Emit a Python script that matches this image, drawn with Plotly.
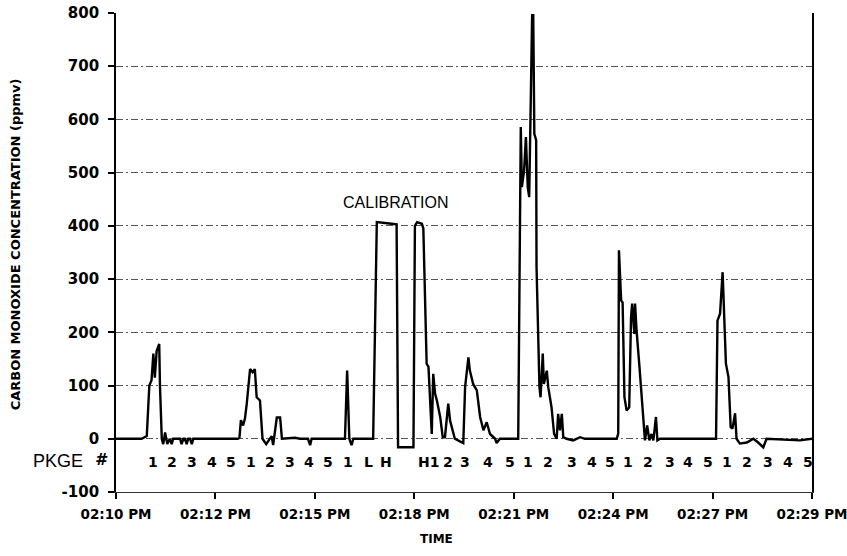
import plotly.graph_objects as go

# Time in minutes after 02:10 PM, CO concentration in ppmv
time_min = [0.00, 0.70, 0.84, 0.91, 0.97, 1.02, 1.06, 1.11, 1.18, 1.20, 1.25, 1.29, 1.34, 1.40, 1.47,
            1.52, 1.56, 1.75, 1.79, 1.84, 1.88, 1.93, 1.97, 2.02, 2.07, 2.11, 3.33, 3.37, 3.41, 3.47,
            3.52, 3.57, 3.66, 3.73, 3.79, 3.84, 3.93, 4.00, 4.10, 4.20, 4.25, 4.29, 4.39, 4.48, 4.53,
            4.89, 5.02, 5.24, 5.30, 5.34, 6.25, 6.31, 6.37, 6.43, 6.48, 7.02, 7.10, 7.12, 7.40, 7.66,
            7.70, 8.12, 8.16, 8.22, 8.35, 8.39, 8.48, 8.53, 8.62, 8.66, 8.71, 8.76, 8.85, 8.92, 8.98,
            9.07, 9.12, 9.19, 9.25, 9.39, 9.48, 9.53, 9.62, 9.66, 9.75, 9.85, 9.94, 10.03, 10.12, 10.21,
            10.35, 10.39, 10.48, 10.98, 11.05, 11.08, 11.14, 11.19, 11.24, 11.28, 11.32, 11.36, 11.39,
            11.42, 11.47, 11.48, 11.56, 11.59, 11.65, 11.68, 11.76, 11.80, 11.89, 11.96, 12.03, 12.07,
            12.12, 12.17, 12.21, 12.30, 12.48, 12.67, 12.80, 13.67, 13.71, 13.73, 13.79, 13.83, 13.88,
            13.94, 14.01, 14.06, 14.09, 14.15, 14.17, 14.21, 14.29, 14.35, 14.40, 14.44, 14.50, 14.56,
            14.62, 14.67, 14.74, 14.78, 14.85, 16.38, 16.42, 16.49, 16.56, 16.60, 16.65, 16.72, 16.78,
            16.83, 16.90, 16.94, 17.03, 17.22, 17.40, 17.53, 17.67, 17.76, 18.40, 18.67, 19.00]
co_ppmv = [0, 0, 5, 100, 110, 160, 115, 165, 178, 100, 0, -10, 12, -10, 0,
           -10, 0, 0, -10, 0, 0, -10, 0, 0, -10, 0, 0, 2, 35, 25,
           38, 66, 131, 125, 131, 78, 72, 0, -10, 0, 5, -12, 40, 40, 0,
           2, 0, 0, -12, 0, 0, 128, 0, -12, 0, 0, 400, 407, 405, 403,
           -16, -16, 400, 407, 404, 395, 141, 135, 9, 122, 85, 72, 41, 3, 3,
           66, 34, 16, 0, -5, -8, 97, 153, 128, 103, 91, 41, 16, 31, 9,
           0, -8, 0, 0, 586, 473, 504, 567, 473, 454, 605, 796, 796,
           573, 561, 323, 97, 78, 160, 103, 128, 97, 59, 9, 0, 47,
           16, 47, 3, 0, -3, 3, 0, 0, 10, 354, 260, 256, 78,
           53, 59, 228, 254, 197, 254, 204, 135, 72, 28, -3, 25, -3,
           9, -3, 41, -3, 0, 0, 222, 235, 313, 241, 141, 116, 22,
           19, 48, 0, -9, -7, 0, -7, -16, 0, -3, -3, 0]

# Package labels along the bottom
pkg_labels = ["1", "2", "3", "4", "5", "1", "2", "3", "4", "5", "1", "L", "H", "H1",
              "2", "3", "4", "5", "1", "2", "3", "4", "5", "1", "2", "3", "4", "5",
              "1", "2", "3", "4", "5"]
pkg_time = [1.01, 1.54, 2.07, 2.61, 3.14, 3.68, 4.20, 4.74, 5.27, 5.80, 6.33, 6.88, 7.37, 8.52,
            9.06, 9.53, 10.16, 10.76, 11.25, 11.79, 12.44, 13.00, 13.49, 13.98, 14.53, 15.12, 15.61, 16.16,
            16.68, 17.23, 17.80, 18.35, 18.90]
pkg_level = -43

x_tick_vals = [0, 19/7, 38/7, 57/7, 76/7, 95/7, 114/7, 19]
x_tick_text = ["02:10 PM", "02:12 PM", "02:15 PM", "02:18 PM", "02:21 PM", "02:24 PM", "02:27 PM", "02:29 PM"]
y_tick_vals = [-100, 0, 100, 200, 300, 400, 500, 600, 700, 800]
y_tick_text = ["-100", "0", "100", "200", "300", "400", "500", "600", "700", "800"]

fig = go.Figure()
fig.add_trace(go.Scatter(x=time_min, y=co_ppmv, mode="lines",
                         line=dict(color="black", width=2.4), showlegend=False))

annotations = []
for lab, t in zip(pkg_labels, pkg_time):
    annotations.append(dict(x=t, y=pkg_level, xref="x", yref="y", text=lab, showarrow=False,
                            font=dict(family="DejaVu Sans", size=14, color="black", weight="bold")))
annotations.append(dict(x=7.64, y=444, xref="x", yref="y", text="CALIBRATION", showarrow=False,
                        font=dict(family="Liberation Sans", size=16, color="black")))
annotations.append(dict(x=-0.0445, y=-41, xref="paper", yref="y", xanchor="right", text="PKGE",
                        showarrow=False, font=dict(family="Liberation Sans", size=18, color="black")))
annotations.append(dict(x=-0.0086, y=-38, xref="paper", yref="y", xanchor="right", text="<b><i>#</i></b>",
                        showarrow=False, font=dict(family="DejaVu Sans", size=16, color="black")))
annotations.append(dict(x=-0.158, y=0.516, xref="paper", yref="paper", text="CARBON MONOXIDE CONCENTRATION (ppmv)",
                        textangle=-90, showarrow=False,
                        font=dict(family="DejaVu Sans", size=13, color="black", weight="bold")))
annotations.append(dict(x=0.461, y=-0.117, xref="paper", yref="paper", text="TIME", showarrow=False,
                        font=dict(family="DejaVu Sans", size=12, color="black", weight="bold")))

fig.update_layout(
    width=847, height=556,
    margin=dict(l=116, r=35, t=13, b=64),
    paper_bgcolor="white", plot_bgcolor="white",
    annotations=annotations,
    xaxis=dict(range=[0, 19], tickvals=x_tick_vals, ticktext=x_tick_text, automargin=False,
               showgrid=False, zeroline=False, showline=True, linecolor="#333", linewidth=1.2,
               ticks="outside", ticklen=6, tickwidth=1.5, tickcolor="black", ticklabelstandoff=4,
               ticklabeloverflow="allow",
               tickfont=dict(family="DejaVu Sans", size=13.5, color="black", weight="bold")),
    yaxis=dict(range=[-100, 800], tickvals=y_tick_vals, ticktext=y_tick_text, automargin=False,
               showgrid=True, gridcolor="#555", gridwidth=1, griddash="7px,3px,2px,3px",
               zeroline=False, showline=True, linecolor="black", linewidth=1.8, mirror=True,
               ticks="outside", ticklen=6, tickwidth=1.5, tickcolor="black", ticklabelstandoff=6,
               tickfont=dict(family="DejaVu Sans", size=15, color="black", weight="bold")),
)

fig.write_html("out.html")
